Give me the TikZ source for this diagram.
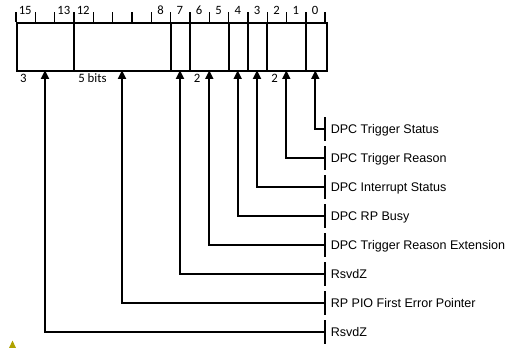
\documentclass[tikz,border=0pt]{standalone}
\usepackage{fontspec}
\newfontfamily\calib{Carlito}
\newfontfamily\arialf{Liberation Sans}
\usetikzlibrary{arrows.meta}
\definecolor{markyellow}{RGB}{176,162,0}
\begin{document}
\begin{tikzpicture}[x=0.75pt,y=-0.75pt,
  boxline/.style={line width=1.5pt},
  thintick/.style={line width=0.8pt},
  thicktick/.style={line width=1.5pt},
  conn/.style={line width=1.35pt,-{Triangle[length=6.5pt,width=6pt]}},
  labbar/.style={line width=1pt},
  bitnum/.style={font=\calib\fontsize{9.5}{11}\selectfont,anchor=base,inner sep=0pt},
  widthlab/.style={font=\calib\fontsize{9.6}{11}\selectfont,anchor=base,inner sep=0pt},
  fieldlab/.style={font=\arialf\fontsize{9.4}{11}\selectfont,anchor=base west,inner sep=0pt}]
\useasboundingbox (0,0) rectangle (509,348);
% register box
\node[draw,boxline,minimum width=232.2pt,minimum height=36pt,inner sep=0pt,anchor=north west] (reg) at (16,22.3) {};
% field dividers
\foreach \k in {3,8,9,11,12,13,15}{
  \draw[boxline] ({16+19.333*\k},22.3) -- ({16+19.333*\k},70.3);
}
% top ticks
\foreach \k in {1,2,4,5,6,7,8,9,10,11,12,13,14,15}{
  \draw[thintick] ({16+19.333*\k},12.3) -- ({16+19.333*\k},22.3);
}
\foreach \k in {0,3,16}{
  \draw[thicktick] ({16+19.333*\k},12.3) -- ({16+19.333*\k},22.3);
}
% bit numbers
\foreach \b in {15,13,12,8,7,6,5,4,3,2,1,0}{
  \node[bitnum] (n\b) at ({16+19.333*(15-\b)+9.2},15) {\b};
}
% width labels
\node[widthlab] (w3) at (23.3,83) {3};
\node[widthlab,anchor=base west] (w5) at (78,83) {5 bits};
\node[widthlab] (w2a) at (197,83) {2};
\node[widthlab] (w2b) at (274.5,83) {2};
% arrow tips
\coordinate (t0) at (315.3,70.3);
\coordinate (t1) at (286.3,70.3);
\coordinate (t3) at (257,70.3);
\coordinate (t4) at (237.7,70.3);
\coordinate (t5) at (209.3,70.3);
\coordinate (t7) at (180,70.3);
\coordinate (t8) at (122,70.3);
\coordinate (t13) at (45,70.3);
% labels
\foreach \y/\id/\txt in {129.3/0/DPC Trigger Status,158.3/1/DPC Trigger Reason,187.3/3/DPC Interrupt Status,216.3/4/DPC RP Busy,245.3/5/DPC Trigger Reason Extension,274.3/7/RsvdZ,303.3/8/RP PIO First Error Pointer,332.3/13/RsvdZ}{
  \draw[labbar] (325,\y-12) -- (325,\y+12);
  \coordinate (b\id) at (325,\y);
  \node[fieldlab] (l\id) at (330.5,\y+4.5) {\txt};
}
% connectors
\foreach \id in {0,1,3,4,5,7,8,13}{
  \draw[conn] (b\id) -| (t\id);
}
% small marker
\fill[markyellow] (9,348) -- (12.5,340.5) -- (16,348) -- cycle;
\end{tikzpicture}
\end{document}
